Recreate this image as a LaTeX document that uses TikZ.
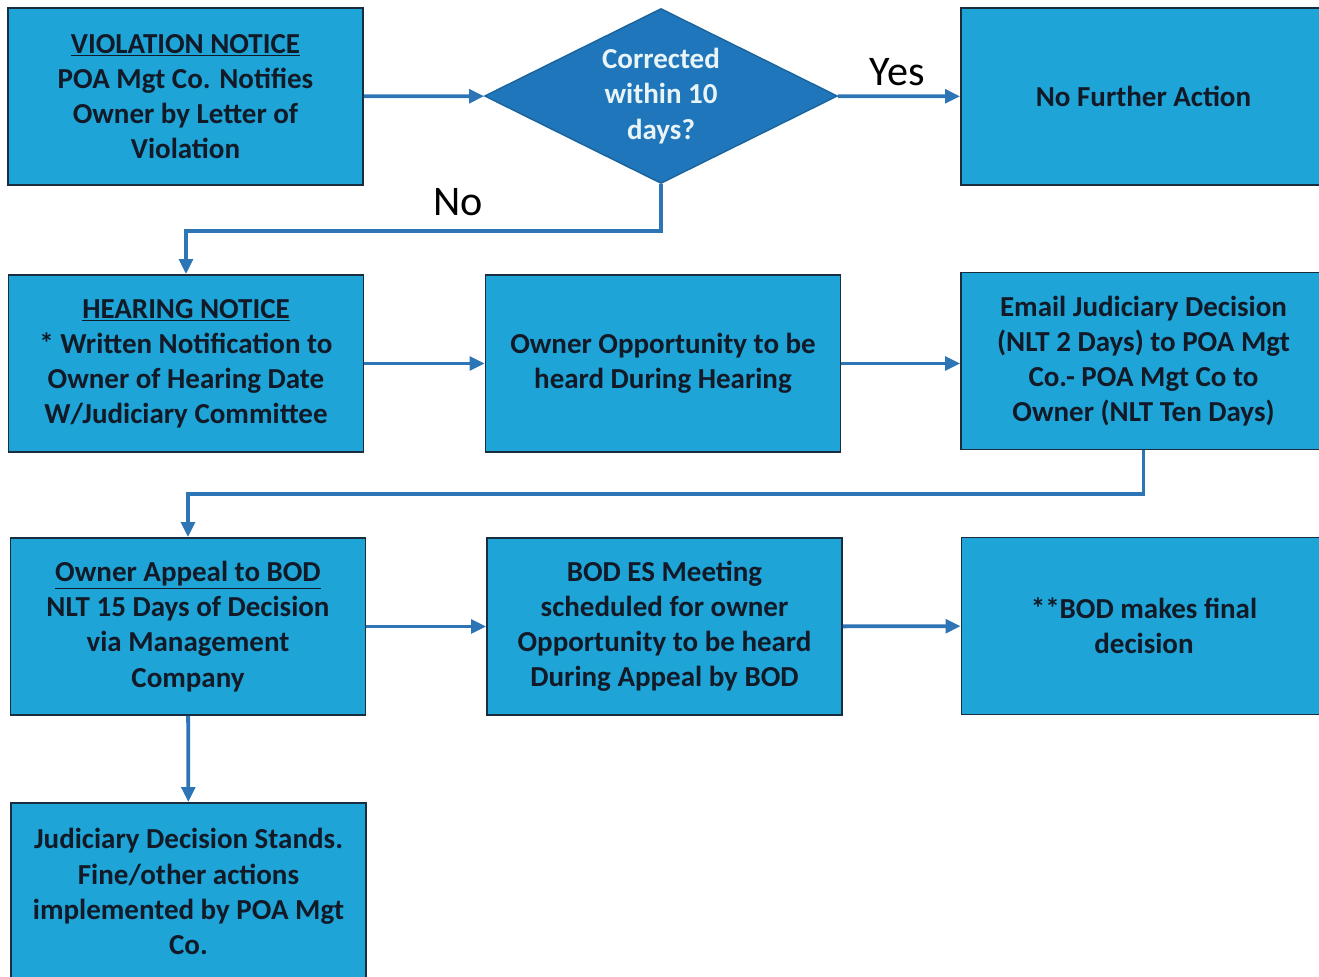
\documentclass[tikz,border=0pt]{standalone}
\usepackage{fontspec}
\setmainfont{Carlito}
\usetikzlibrary{positioning}
\usetikzlibrary{shapes.geometric}
\usetikzlibrary{arrows.meta}
\definecolor{boxblue}{RGB}{30,164,214}
\definecolor{diablue}{RGB}{31,118,186}
\definecolor{flowblue}{RGB}{46,117,182}
\definecolor{edgeline}{RGB}{25,45,62}
\definecolor{inktext}{RGB}{18,26,40}
\tikzset{box/.style = {draw=edgeline, fill=boxblue, line width=1pt, minimum width=7.1cm, minimum height=3.54cm, align=center, text=inktext, font=\fontsize{16.5}{20}\selectfont\bfseries}}
\tikzset{widebox/.style = {box, minimum width=7.3cm}}
\tikzset{decision/.style = {diamond, aspect=2.2, draw=diablue!85!black, fill=diablue, line width=0.8pt, inner sep=0, minimum width=7.06cm, minimum height=3.5cm, align=center, text={rgb,255:red,232;green,244;blue,246}, font=\fontsize{16.5}{20}\selectfont\bfseries}}
\tikzset{flow/.style = {draw=flowblue, line width=2.2pt, -{Triangle[length=0.3cm,width=0.27cm]}}}
\tikzset{answer/.style = {text=black, font=\fontsize{24}{28}\selectfont}}

\begin{document}
\begin{tikzpicture}[x=0.02cm, y=-0.02cm]
  \useasboundingbox (0,0) rectangle (1319,977);
  \node[box] (viol) at (185.5,96.5) {\underline{VIOLATION NOTICE}\\ POA Mgt Co. Notifies\\ Owner by Letter of\\ Violation};
  \node[decision] (corr) at (661,96) {Corrected\\ within 10\\ days?};
  \node[widebox] (noact) at (1143.5,96.5) {No Further Action};
  \node[box] (hear) at (186,363.5) {\underline{HEARING NOTICE}\\ * Written Notification to\\ Owner of Hearing Date\\ W/Judiciary Committee};
  \node[box] (heard) at (663,363.5) {Owner Opportunity to be\\ heard During Hearing};
  \node[widebox] (email) at (1143.5,361) {Email Judiciary Decision\\ (NLT 2 Days) to POA Mgt\\ Co.- POA Mgt Co to\\ Owner (NLT Ten Days)};
  \node[box] (appeal) at (188,626.5) {\underline{Owner Appeal to BOD}\\ NLT 15 Days of Decision\\ via Management\\ Company};
  \node[box] (meet) at (664.5,626.5) {BOD ES Meeting\\ scheduled for owner\\ Opportunity to be heard\\ During Appeal by BOD};
  \node[widebox] (final) at (1144,626) {**BOD makes final\\ decision};
  \node[box] (stands) at (188.5,891.5) {Judiciary Decision Stands.\\ Fine/other actions\\ implemented by POA Mgt\\ Co.};
  \node[answer] (yes) at (897,72) {Yes};
  \node[answer] (no) at (458,202) {No};

  \draw[flow] (viol) -- (corr);
  \draw[flow] (corr) -- (noact);
  \draw[flow] (corr.south) -- ++(0,47) -| (hear.north);
  \draw[flow] (hear) -- (heard);
  \draw[flow] (heard) -- (heard -| email.west);
  \draw[flow] (email.south) -- ++(0,44) -| (appeal.north);
  \draw[flow] (appeal) -- (meet);
  \draw[flow] (meet) -- (final);
  \draw[flow] (appeal) -- (stands);
\end{tikzpicture}
\end{document}
